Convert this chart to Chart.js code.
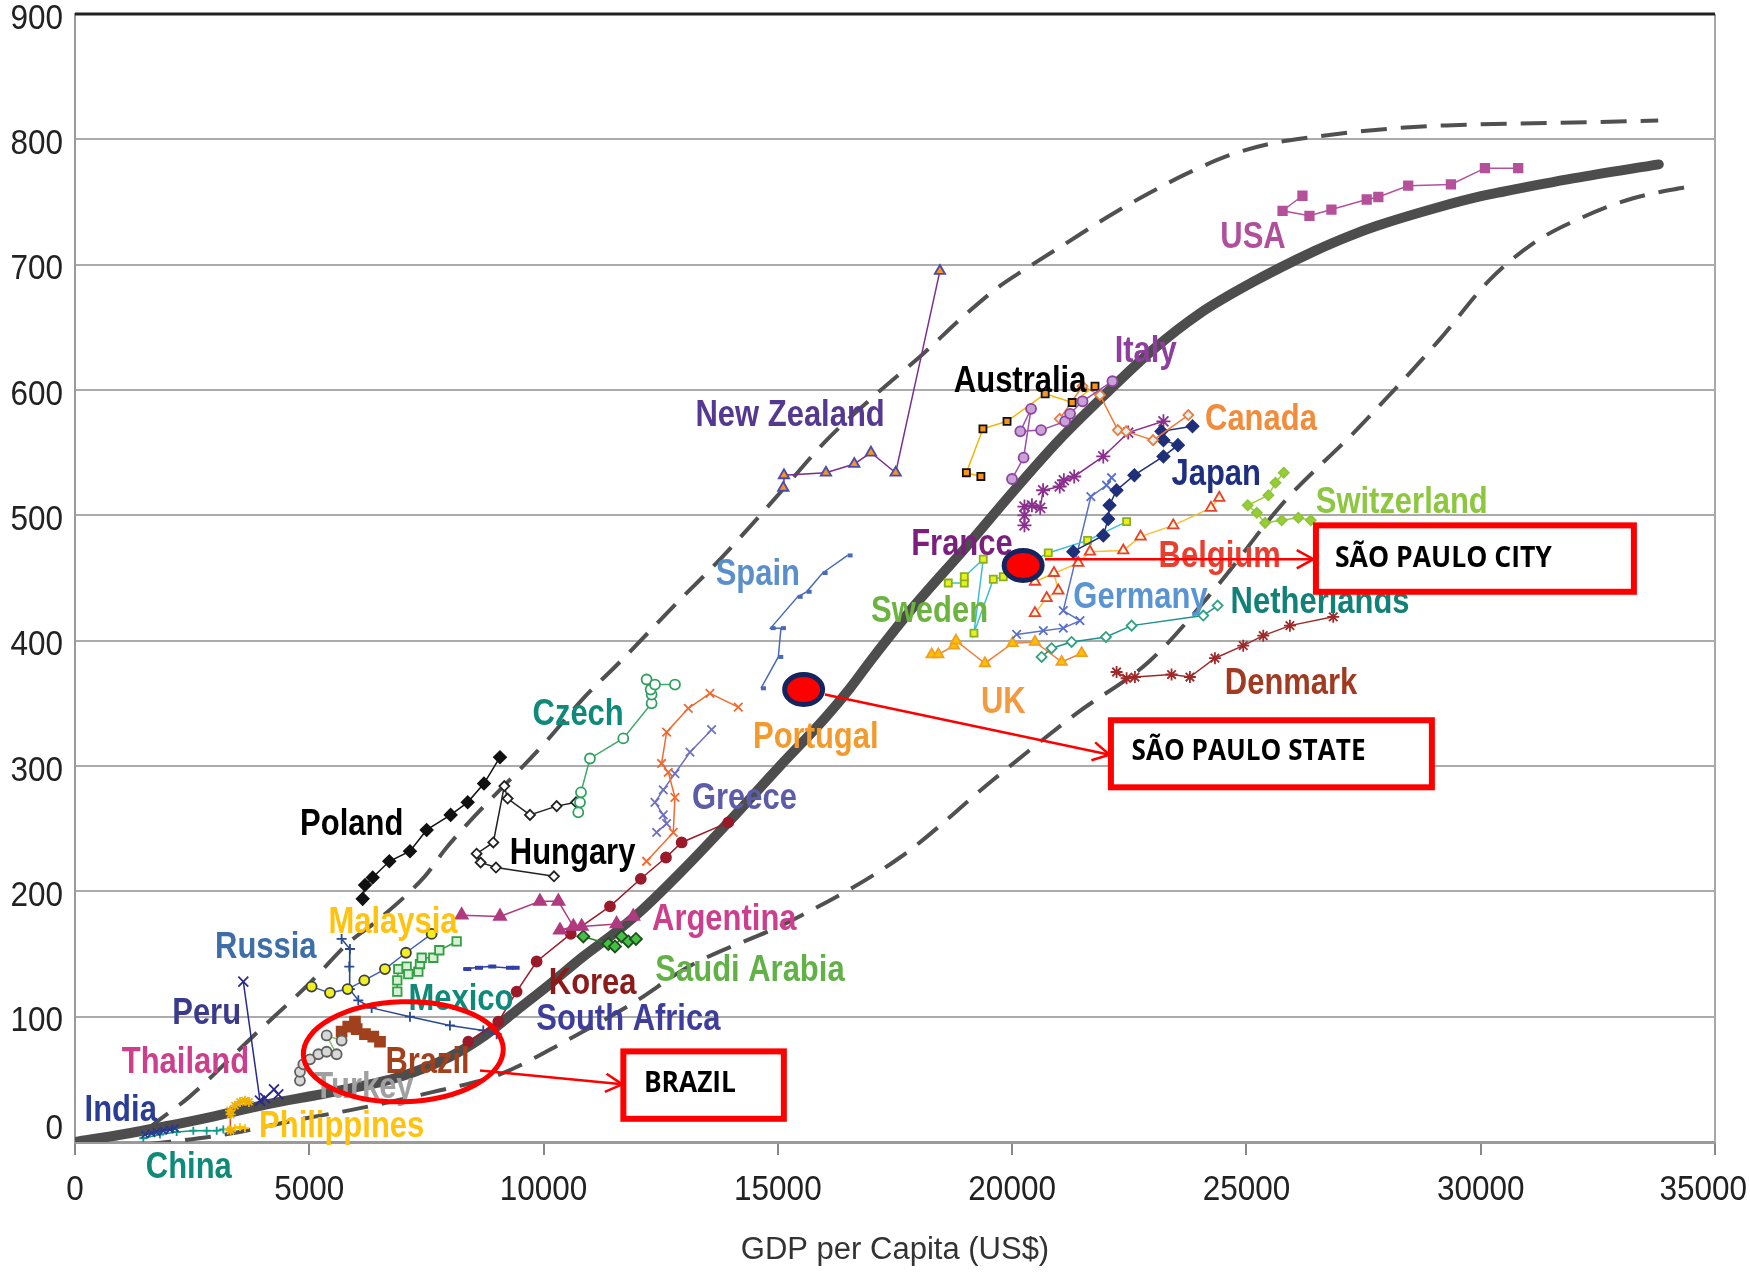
<!DOCTYPE html>
<html>
<head>
<meta charset="utf-8">
<title>Score vs GDP per capita</title>
<script src="https://cdn.jsdelivr.net/npm/chart.js@4.4.1/dist/chart.umd.min.js"></script>
<style>
  html, body { margin: 0; padding: 0; background: #fff; }
  #wrap { width: 1750px; height: 1272px; position: relative; }
</style>
</head>
<body>
<div id="wrap"><canvas id="chart"></canvas></div>
<script>
// Axis ticks
const xTicks = [0, 5000, 10000, 15000, 20000, 25000, 30000, 35000];
const yTicks = [0, 100, 200, 300, 400, 500, 600, 700, 800, 900];

// Trend curves [gdp, score]
const trendMid = [[0,0],[1000,6],[2000,13],[2667,18],[4090,30],[5513,40],[6935,52],[8002,68],[8714,84],[9425,105],[10136,126],[10847,148],[11559,168],[12128,186],[13000,218],[13942,255],[15045,300],[16000,338],[16538,362],[17000,385],[17962,430],[19000,474],[20000,518],[21000,560],[22000,597],[23000,632],[24000,661],[25132,686],[26461,711],[27209,723],[27789,731],[29117,746],[30053,755],[30446,758],[32000,769],[33800,780]];
const trendHigh = [[1550,10],[1672,14],[2441,36],[3790,84],[5015,127],[5868,160],[6362,174],[7465,212],[7932,235],[10065,320],[10848,354],[11630,383],[12840,430],[13694,462],[14405,491],[15116,521],[16041,560],[17108,597],[18103,629],[19029,661],[19740,683],[20262,696],[21148,717],[22034,738],[22919,757],[23805,774],[24690,788],[25574,797],[26461,802],[27345,806],[28232,809],[29117,811],[29994,812],[31490,813],[33788,815]];
const trendLow = [[1500,-2],[3054,5],[4801,18],[6224,28],[7647,40],[9069,54],[10492,81],[11915,111],[13101,140],[15305,177],[17606,227],[19597,289],[21376,342],[22941,384],[24363,443],[25786,510],[27345,568],[29117,640],[30197,688],[31120,717],[32187,738],[33254,753],[34535,763]];

// Country paths [gdp, score]
const usa = [[26196,755],[25771,743],[26345,739],[26814,744],[27567,752],[27815,754],[28453,763],[29364,764],[30090,777],[30800,777]];
const italy = [[19997,529],[20245,546],[20404,585],[20174,567],[20617,568],[21130,575],[21237,581],[21502,591],[22140,607]];
const australia = [[19333,531],[19023,534],[19377,569],[19891,575],[20705,597],[21281,590],[21768,603]];
const canada = [[21015,577],[21502,603],[21874,596],[22255,568],[22432,567],[23008,560],[23760,580]];
const japan = [[21305,471],[21945,484],[22050,497],[22078,508],[22228,520],[22609,532],[23229,547],[23539,556],[23229,560],[23185,567],[23849,571]];
const france = [[20263,492],[20263,500],[20263,507],[20422,508],[20599,506],[20661,520],[21015,523],[21104,528],[21325,531],[21945,547],[22477,566],[23229,575]];
const newZealand = [[15116,522],[15130,532],[16026,534],[16631,541],[16987,550],[17514,534],[18459,695]];
const switzerland = [[25797,534],[25620,526],[25469,516],[25027,508],[25221,502],[25398,494],[25752,496],[26107,498],[26373,496]];
const belgium = [[20487,422],[20736,434],[20985,440],[20892,454],[20487,447],[21411,462],[21660,471],[22372,472],[22742,483],[23439,492],[24243,506],[24420,514]];
const sweden = [[18637,446],[18979,446],[18979,451],[19384,465],[19185,406],[19598,449],[19811,451],[20771,470],[21610,480],[22443,495]];
const germany = [[20096,405],[20665,408],[21091,410],[21447,416],[21091,424],[21680,515],[22016,524],[22122,530]];
const netherlands = [[20629,387],[20842,394],[21269,399],[22002,403],[22550,412],[24079,420],[24385,428]];
const uk = [[18282,389],[18424,389],[18758,396],[18801,400],[19420,382],[20010,398],[20487,399],[21056,383],[21483,390]];
const denmark = [[22229,375],[22443,370],[22620,371],[23402,373],[23794,371],[24328,386],[24932,396],[25359,404],[25928,412],[26853,419]];
const spain = [[14639,362],[15009,387],[15066,410],[14846,410],[15422,435],[15614,439],[15955,454],[16489,468]];
const czech = [[10741,263],[10777,271],[10798,279],[10990,306],[11701,322],[12306,350],[12306,357],[12285,361],[12199,369],[12377,365],[12804,365]];
const portugal = [[12199,224],[12768,247],[12804,275],[12662,295],[12519,302],[12626,327],[13088,346],[13551,358],[14155,347]];
const greece = [[12413,247],[12626,254],[12555,261],[12377,271],[12555,281],[12804,294],[13124,311],[13586,329]];
const poland = [[6139,194],[6189,205],[6353,211],[6708,224],[7149,232],[7505,249],[8017,261],[8380,271],[8728,286],[9070,307]];
const hungary = [[10222,212],[8984,219],[8657,223],[8572,230],[8927,239],[9162,284],[9233,274],[9710,261],[10279,268],[10692,271]];
const argentina = [[8252,181],[9070,180],[9923,192],[10316,192],[10635,172],[10350,169],[10813,172],[11559,174],[11915,180]];
const korea = [[8394,80],[9034,96],[9425,120],[9852,144],[10580,166],[11417,188],[12075,210],[12612,227],[12947,239],[13942,255]];
const saudiArabia = [[10848,164],[11381,158],[11524,156],[11666,164],[11808,160],[11972,162]];
const malaysia = [[5050,124],[5442,119],[5818,122],[6174,129],[6615,138],[7063,151],[7611,166]];
const mexico = [[6878,120],[6878,129],[6900,138],[7078,140],[7113,134],[7327,136],[7362,142],[7398,147],[7647,147],[7775,153],[8145,160]];
const russia = [[5690,162],[5868,154],[5854,140],[5868,122],[6046,113],[6331,107],[7149,100],[8002,93],[8714,89],[8999,86]];
const peru = [[3592,128],[3948,33],[4055,35],[4247,42],[4339,38]];
const southAfrica = [[8287,138],[8536,139],[8821,140],[9198,139],[9319,139]];
const turkey = [[4801,49],[4801,56],[4873,62],[5015,66],[5193,70],[5370,72],[5584,70],[5370,85],[5690,81]];
const brazil = [[5690,88],[5832,92],[5975,96],[6011,90],[6188,86],[6366,84],[6509,80]];
const thailand = [[3322,9],[3322,22],[3308,25],[3414,29],[3521,32],[3628,33],[3713,32]];
const philippines = [[3272,10],[3414,11],[3521,12],[3628,11]];
const india = [[1494,6],[1636,7],[1743,8],[1885,9],[2027,10],[2134,11]];
const china = [[1458,3],[1814,6],[2170,8],[2525,9],[2810,9],[3024,9],[3165,10]];

// name, data, line colour, marker, fill, edge, radius
const countries = [
  ['USA', usa, '#b5509b', 'rect', '#b5509b', '#b5509b', 6],
  ['Italy', italy, '#9a4fa8', 'circle', '#c9a3d6', '#8e44a0', 5],
  ['Australia', australia, '#f5b400', 'rect', '#f7941d', '#111111', 5],
  ['Canada', canada, '#f07a3a', 'rectRot', '#d8f4f4', '#f07a3a', 5],
  ['Japan', japan, '#1f2f7a', 'rectRot', '#1f2f7a', '#1f2f7a', 6],
  ['France', france, '#8b2f8f', 'star', '#8b2f8f', '#8b2f8f', 7],
  ['New Zealand', newZealand, '#7a2f8f', 'triangle', '#f7941d', '#4a4ab0', 6],
  ['Switzerland', switzerland, '#9acd32', 'rectRot', '#9acd32', '#8cc63f', 5],
  ['Belgium', belgium, '#f8c030', 'triangle', '#fff8d0', '#e84030', 6],
  ['Sweden', sweden, '#3cc0d0', 'rect', '#e8f020', '#8ab020', 5],
  ['Germany', germany, '#5a70c8', 'crossRot', '#5a70c8', '#5a70c8', 6],
  ['Netherlands', netherlands, '#20908a', 'rectRot', '#ffffff', '#30a080', 5],
  ['UK', uk, '#f08040', 'triangle', '#ffc000', '#f0a020', 6],
  ['Denmark', denmark, '#a02a2a', 'star', '#a02a2a', '#a02a2a', 6],
  ['Spain', spain, '#4a6ab8', 'dash', '#4a6ab8', '#4a6ab8', 5],
  ['Czech', czech, '#40a868', 'circle', '#ffffff', '#30a060', 5],
  ['Portugal', portugal, '#f06a30', 'crossRot', '#f06a30', '#f06a30', 6],
  ['Greece', greece, '#7070c0', 'crossRot', '#7070c0', '#7070c0', 6],
  ['Poland', poland, '#111111', 'rectRot', '#111111', '#111111', 6],
  ['Hungary', hungary, '#222222', 'rectRot', '#ffffff', '#222222', 5],
  ['Argentina', argentina, '#b03a80', 'triangle', '#b03a80', '#b03a80', 7],
  ['Korea', korea, '#9a1a2a', 'circle', '#9a1a2a', '#9a1a2a', 5],
  ['Saudi Arabia', saudiArabia, '#2a7a2a', 'rectRot', '#44c044', '#1f4f1f', 6],
  ['Malaysia', malaysia, '#4060c0', 'circle', '#f0f020', '#404040', 5],
  ['Mexico', mexico, '#30a040', 'rect', '#d8f0d8', '#30a040', 6],
  ['Russia', russia, '#2a4a90', 'cross', '#2a4a90', '#2a4a90', 5],
  ['Peru', peru, '#2a2a8a', 'crossRot', '#2a2a8a', '#2a2a8a', 7],
  ['South Africa', southAfrica, '#3040a8', 'dash', '#3040a8', '#3040a8', 8],
  ['Turkey', turkey, '#88c060', 'circle', '#d8d8d8', '#606060', 5],
  ['Brazil', brazil, '#a0401c', 'rect', '#a0401c', '#a0401c', 7],
  ['Thailand', thailand, '#e84030', 'star', '#f0b000', '#f0b000', 5],
  ['Philippines', philippines, '#ffc000', 'cross', '#ffc000', '#ffc000', 4],
  ['India', india, '#2a3a90', 'crossRot', '#2a3a90', '#2a3a90', 5],
  ['China', china, '#109a8a', 'cross', '#109a8a', '#109a8a', 4]
];

// country name labels: text, gdp, score, colour
const labelSpots = [
  ['USA', 25140, 721, '#b04f9c'], ['Italy', 22850, 630, '#8e3f9e'],
  ['Australia', 20170, 606, '#000000'], ['Canada', 25310, 576, '#f08c3c'],
  ['New Zealand', 15262, 579, '#55388f'], ['Japan', 24355, 532, '#1f2f80'],
  ['Switzerland', 28315, 510, '#8dc63f'], ['France', 18929, 476, '#7a1f7e'],
  ['Belgium', 24429, 467, '#e84030'], ['Spain', 14572, 452, '#5b8fcc'],
  ['Sweden', 18238, 423, '#6cb33f'], ['Germany', 22739, 434, '#5a94d2'],
  ['Netherlands', 26572, 430, '#118076'], ['UK', 19810, 350, '#f29a3f'],
  ['Denmark', 25953, 365, '#a03b22'], ['Czech', 10738, 341, '#0f8a7a'],
  ['Portugal', 15810, 322, '#f39a2c'], ['Greece', 14286, 274, '#5c5ca8'],
  ['Poland', 5905, 253, '#000000'], ['Hungary', 10619, 230, '#000000'],
  ['Argentina', 13857, 177, '#cc3f8c'], ['Malaysia', 6786, 175, '#ffc20e'],
  ['Russia', 4072, 155, '#3d6ea8'], ['Saudi Arabia', 14405, 136, '#62b146'],
  ['Korea', 11048, 126, '#8b1a1a'], ['Mexico', 8238, 113, '#0f8a7a'],
  ['Peru', 2810, 102, '#3a3a8c'], ['South Africa', 11810, 97, '#3d3d9c'],
  ['Thailand', 2357, 63, '#cc3f8c'], ['Brazil', 7524, 63, '#a3401c'],
  ['Turkey', 6167, 43, '#a0a0a0'], ['India', 976, 25, '#2a3d94'],
  ['Philippines', 5691, 12, '#ffc20e'], ['China', 2429, -21, '#0f8a7a']
];

// red call-outs (gdp, score positions)
const spDots = [[15550, 361], [20235, 460]];
const brazilRing = { x: 7006, y: 72 };
const callouts = [
  { text: 'SÃO PAULO CITY', from: [20700, 465], to: [26430, 465], box: [26483, 492, 33269, 439], textAt: [26889, 465.5], textW: 217 },
  { text: 'SÃO PAULO STATE', from: [16005, 357], to: [22080, 309], box: [22108, 336.5, 28958, 283], textAt: [22548, 311], textW: 234 },
  { text: 'BRAZIL', from: [8643, 57], to: [11680, 46], box: [11703, 72.3, 15128, 18.5], textAt: [12142, 46.5], textW: 92 }
];

const toXY = arr => arr.map(p => ({ x: p[0], y: p[1] }));
const SANS = '"Liberation Sans", Arial, sans-serif';

const datasets = countries.map(c => ({
  label: c[0],
  data: toXY(c[1]),
  showLine: true,
  borderColor: c[2],
  borderWidth: c[0] === 'Brazil' ? 4 : 1.5,
  pointStyle: c[3],
  pointBackgroundColor: c[4],
  pointBorderColor: c[5],
  pointBorderWidth: (c[3] === 'dash') ? 4 : 1.8,
  pointRadius: c[6],
  pointHoverRadius: c[6]
}));

datasets.push({
  label: 'mid', data: toXY(trendMid), showLine: true, borderColor: '#4d4d4d',
  borderWidth: 10, pointRadius: 0, cubicInterpolationMode: 'monotone', borderCapStyle: 'round'
});
datasets.push({
  label: 'high', data: toXY(trendHigh), showLine: true, borderColor: '#505050',
  borderWidth: 4, borderDash: [26, 14], pointRadius: 0, cubicInterpolationMode: 'monotone'
});
datasets.push({
  label: 'low', data: toXY(trendLow), showLine: true, borderColor: '#505050',
  borderWidth: 4, borderDash: [26, 14], pointRadius: 0, cubicInterpolationMode: 'monotone'
});

function arrowHead(ctx, x1, y1, x2, y2) {
  const a = Math.atan2(y2 - y1, x2 - x1);
  const len = 19, spread = 0.5;
  ctx.beginPath();
  ctx.moveTo(x2 - len * Math.cos(a - spread), y2 - len * Math.sin(a - spread));
  ctx.lineTo(x2, y2);
  ctx.lineTo(x2 - len * Math.cos(a + spread), y2 - len * Math.sin(a + spread));
  ctx.stroke();
}

// draw text squeezed horizontally (narrow look)
function narrowText(ctx, text, x, y, squeeze) {
  ctx.save();
  ctx.translate(x, y);
  ctx.scale(squeeze, 1);
  ctx.fillText(text, 0, 0);
  ctx.restore();
}

const framePlugin = {
  id: 'frame',
  beforeDatasetsDraw(chart) {
    const { ctx, chartArea: a } = chart;
    ctx.save();
    ctx.strokeStyle = '#a8a8a8';
    ctx.lineWidth = 2;
    ctx.beginPath();
    ctx.moveTo(a.right, a.top);
    ctx.lineTo(a.right, a.bottom);
    ctx.stroke();
    ctx.strokeStyle = '#222';
    ctx.lineWidth = 3;
    ctx.beginPath();
    ctx.moveTo(a.left, a.top);
    ctx.lineTo(a.right, a.top);
    ctx.stroke();
    ctx.restore();
  }
};

// tick labels in a narrow face, from the scales
const tickLabelPlugin = {
  id: 'tickLabels',
  afterDraw(chart) {
    const { ctx, width } = chart;
    const xs = chart.scales.x, ys = chart.scales.y;
    ctx.save();
    ctx.fillStyle = '#222';
    ctx.font = '35px ' + SANS;
    ctx.textBaseline = 'middle';
    ctx.textAlign = 'center';
    xTicks.forEach(v => {
      const s = String(v);
      const half = ctx.measureText(s).width * 0.9 / 2;
      const cx = Math.min(xs.getPixelForValue(v), width - 3 - half);
      narrowText(ctx, s, cx, xs.top + 48, 0.9);
    });
    ctx.textAlign = 'right';
    yTicks.forEach(v => {
      const cy = ys.getPixelForValue(v) + (v === 0 ? -13 : 5);
      narrowText(ctx, String(v), ys.right - 12, cy, 0.9);
    });
    ctx.restore();
  }
};

const labelPlugin = {
  id: 'countryLabels',
  afterDatasetsDraw(chart) {
    const { ctx } = chart;
    const xs = chart.scales.x, ys = chart.scales.y;
    ctx.save();
    ctx.font = 'bold 36px ' + SANS;
    ctx.textAlign = 'center';
    ctx.textBaseline = 'middle';
    labelSpots.forEach(l => {
      ctx.fillStyle = l[3];
      narrowText(ctx, l[0], xs.getPixelForValue(l[1]), ys.getPixelForValue(l[2]), 0.86);
    });
    ctx.restore();
  }
};

const calloutPlugin = {
  id: 'callouts',
  afterDraw(chart) {
    const { ctx } = chart;
    const xs = chart.scales.x, ys = chart.scales.y;
    const px = v => xs.getPixelForValue(v), py = v => ys.getPixelForValue(v);
    ctx.save();

    // ring around Brazil
    ctx.strokeStyle = '#ff0000';
    ctx.lineWidth = 5;
    ctx.beginPath();
    ctx.ellipse(px(brazilRing.x), py(brazilRing.y), 100, 50, -0.03, 0, Math.PI * 2);
    ctx.stroke();

    // São Paulo dots
    spDots.forEach(d => {
      ctx.beginPath();
      ctx.ellipse(px(d[0]), py(d[1]), 19, 15, 0, 0, Math.PI * 2);
      ctx.fillStyle = '#ff0000';
      ctx.fill();
      ctx.lineWidth = 5;
      ctx.strokeStyle = '#14245e';
      ctx.stroke();
    });

    callouts.forEach(c => {
      const x1 = px(c.from[0]), y1 = py(c.from[1]);
      const x2 = px(c.to[0]), y2 = py(c.to[1]);
      ctx.strokeStyle = '#ff0000';
      ctx.lineWidth = 2.5;
      ctx.beginPath();
      ctx.moveTo(x1, y1);
      ctx.lineTo(x2, y2);
      ctx.stroke();
      arrowHead(ctx, x1, y1, x2, y2);

      const bx1 = px(c.box[0]), by1 = py(c.box[1]), bx2 = px(c.box[2]), by2 = py(c.box[3]);
      ctx.fillStyle = '#ffffff';
      ctx.fillRect(bx1, by1, bx2 - bx1, by2 - by1);
      ctx.lineWidth = 6;
      ctx.strokeStyle = '#ff0000';
      ctx.strokeRect(bx1, by1, bx2 - bx1, by2 - by1);

      ctx.font = 'bold 28px "Open Sans", "Noto Sans", sans-serif';
      ctx.fillStyle = '#000';
      ctx.textAlign = 'left';
      ctx.textBaseline = 'middle';
      const w = ctx.measureText(c.text).width;
      narrowText(ctx, c.text, px(c.textAt[0]), py(c.textAt[1]), c.textW / w);
    });
    ctx.restore();
  }
};

new Chart(document.getElementById('chart'), {
  type: 'scatter',
  data: { datasets },
  options: {
    responsive: true,
    maintainAspectRatio: false,
    animation: false,
    devicePixelRatio: 1,
    layout: { padding: { top: 14, right: 35, left: 0, bottom: 0 } },
    plugins: { legend: { display: false }, tooltip: { enabled: false } },
    scales: {
      x: {
        type: 'linear', min: 0, max: 35000,
        afterBuildTicks: s => { s.ticks = xTicks.map(v => ({ value: v })); },
        afterFit: s => { s.height = 130; s.paddingLeft = 0; s.paddingRight = 0; },
        ticks: { display: false },
        grid: { drawOnChartArea: false, drawTicks: true, tickLength: 13, color: '#888', lineWidth: 2 },
        border: { display: true, color: '#9a9a9a', width: 3 },
        title: { display: true, text: 'GDP per Capita (US$)', color: '#333', font: { family: SANS, size: 31, lineHeight: 1.2 }, padding: { top: 0, bottom: 3 } }
      },
      y: {
        type: 'linear', min: 0, max: 900,
        afterBuildTicks: s => { s.ticks = yTicks.map(v => ({ value: v })); },
        afterFit: s => { s.width = 75; s.paddingTop = 0; s.paddingBottom = 0; },
        ticks: { display: false },
        grid: { color: '#ababab', lineWidth: 2, drawTicks: false },
        border: { display: true, color: '#9a9a9a', width: 2 }
      }
    }
  },
  plugins: [framePlugin, labelPlugin, tickLabelPlugin, calloutPlugin]
});
</script>
</body>
</html>
